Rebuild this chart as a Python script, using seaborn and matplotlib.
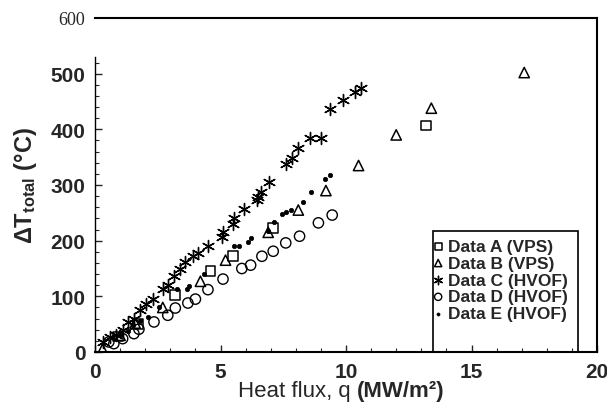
import matplotlib
matplotlib.use("Agg")
import matplotlib.pyplot as plt
from matplotlib.patches import Rectangle
import seaborn as sns

# data: heat flux q (MW/m2) and total temperature drop (C)
qA = [0.9, 1.7, 3.2, 4.6, 5.5, 7.1, 13.2]
tA = [28, 50, 103, 145, 172, 223, 407]

qB = [0.3, 1.0, 1.6, 2.7, 4.2, 5.2, 6.9, 8.1, 9.2, 10.5, 12.0, 13.4, 17.1]
tB = [5, 30, 52, 80, 127, 165, 215, 255, 290, 335, 390, 438, 502]

qC = [0.3, 0.6, 0.85, 1.1, 1.3, 1.55, 1.8, 2.05, 2.3, 2.7, 2.9, 3.15, 3.4, 3.6,
      3.9, 4.1, 4.5, 5.05, 5.1, 5.5, 5.55, 5.95, 6.45, 6.5, 6.6, 6.95, 7.6, 7.85,
      8.1, 8.55, 9.0, 9.35, 9.9, 10.35, 10.6]
tC = [18, 27, 30, 39, 54, 60, 75, 87, 96, 113, 121, 137, 150, 161,
      173, 178, 190, 206, 215, 230, 240, 256, 273, 278, 288, 305, 338, 348,
      367, 384, 384, 437, 452, 467, 475]

qD = [0.55, 0.75, 1.1, 1.55, 1.75, 2.35, 2.9, 3.2, 3.7, 4.0, 4.5, 5.1, 5.85,
      6.2, 6.65, 7.1, 7.6, 8.15, 8.9, 9.45]
tD = [18, 15, 24, 33, 41, 54, 66, 79, 88, 95, 112, 131, 150, 156, 172, 181,
      196, 208, 232, 246]

qE = [1.0, 1.3, 1.5, 1.8, 2.1, 2.55, 3.25, 3.65, 3.75, 4.35, 5.55, 5.75, 6.1,
      6.2, 6.9, 7.15, 7.45, 7.6, 7.8, 8.3, 8.6, 9.15, 9.35]
tE = [30, 38, 48, 56, 63, 80, 113, 114, 118, 140, 190, 191, 197, 205, 217,
      233, 248, 252, 255, 270, 288, 311, 318]

labels = ["Data A (VPS)", "Data B (VPS)", "Data C (HVOF)", "Data D (HVOF)", "Data E (HVOF)"]

sns.set_style("ticks")
plt.rcParams["font.family"] = ["Liberation Sans", "DejaVu Sans"]
plt.rcParams["mathtext.fontset"] = "custom"
plt.rcParams["mathtext.rm"] = "Liberation Sans:bold"
plt.rcParams["mathtext.it"] = "Liberation Sans:bold"
plt.rcParams["mathtext.bf"] = "Liberation Sans:bold"
plt.rcParams["mathtext.default"] = "rm"

fig = plt.figure(figsize=(6.07, 4.06), dpi=100)
ax = fig.add_axes([95 / 607, 1 - 353 / 406, 502 / 607, 334 / 406])

sns.scatterplot(x=qA, y=tA, marker="s", s=50, facecolor="none", edgecolor="black",
                linewidth=1.1, ax=ax, label=labels[0])
sns.scatterplot(x=qB, y=tB, marker="^", s=55, facecolor="none", edgecolor="black",
                linewidth=1.1, ax=ax, label=labels[1])
sns.scatterplot(x=qC, y=tC, marker=(6, 2, 0), s=75, color="black",
                linewidth=1.0, ax=ax, label=labels[2])
sns.scatterplot(x=qD, y=tD, marker="o", s=55, facecolor="none", edgecolor="black",
                linewidth=1.0, ax=ax, label=labels[3])
sns.scatterplot(x=qE, y=tE, marker="o", s=10, color="black", edgecolor="black",
                linewidth=0.5, ax=ax, label=labels[4])

ax.set_xlim(0, 20)
ax.set_ylim(0, 600)
ax.set_xticks([0, 5, 10, 15, 20])
ax.set_yticks([0, 100, 200, 300, 400, 500, 600])
ax.set_xticks(range(0, 21), minor=True)
ax.set_yticks(range(0, 521, 20), minor=True)
ax.tick_params(which="major", direction="in", length=5, width=1, pad=7,
               labelsize=15, top=False, right=False)
ax.tick_params(which="minor", direction="in", length=3, width=0.8,
               top=False, right=False)
for t in ax.get_xticklabels() + ax.get_yticklabels():
    t.set_fontweight("bold")
ylab = ax.get_yticklabels()
ylab[-1].set_fontweight("normal")
ylab[-1].set_family("Liberation Serif")
ylab[-1].set_fontsize(13)
ax.yaxis.get_major_ticks()[-1].tick1line.set_visible(False)

for sp in ax.spines.values():
    sp.set_color("black")
    sp.set_linewidth(1.5)
ax.spines["left"].set_bounds(0, 530)
ax.spines["left"].set_linewidth(1.0)

ax.set_ylabel("ΔT$_{total}$ (°C)", fontsize=17, fontweight="bold", labelpad=8)
ax.set_xlabel("")
fig.text(357 / 607, 1 - 397 / 406, "Heat flux, q ", ha="right", va="baseline",
         fontsize=16)
fig.text(357 / 607, 1 - 397 / 406, "(MW/m²)", ha="left", va="baseline",
         fontsize=16, fontweight="bold")

# legend box reaching down to the x axis
ax.add_patch(Rectangle((0.673, 0.0), 0.289, 0.362, transform=ax.transAxes,
                       fill=False, edgecolor="black", linewidth=1.2, zorder=5))
leg = ax.legend(loc="upper left", bbox_to_anchor=(0.668, 0.35),
                frameon=False, fontsize=12.5, handlelength=0.5,
                handletextpad=0.3, labelspacing=0.1, borderpad=0.2,
                borderaxespad=0.0, markerscale=0.7)
for txt in leg.get_texts():
    txt.set_fontweight("bold")

fig.savefig("out.png", dpi=100)
